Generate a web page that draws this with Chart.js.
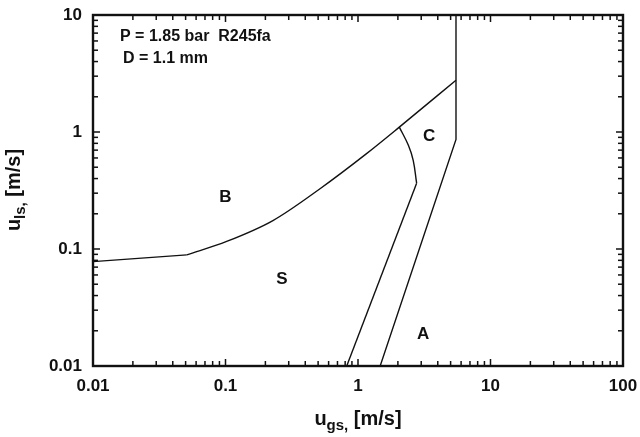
<!DOCTYPE html>
<html>
<head>
<meta charset="utf-8">
<script src="https://cdn.jsdelivr.net/npm/chart.js@4/dist/chart.umd.min.js"></script>
<style>
  html, body { margin: 0; padding: 0; background: #fff; }
  #wrap { width: 640px; height: 437px; }
</style>
</head>
<body>
<div id="wrap"><canvas id="chart" width="640" height="437"></canvas></div>
<script>
// Flow pattern map, R245fa, D = 1.1 mm (log-log)

const FONT = '"Liberation Sans", Arial, sans-serif';

const xTicks = [0.01, 0.1, 1, 10, 100];
const yTicks = [0.01, 0.1, 1, 10];

// B / S boundary: flat start, then curved part up to the C corner
const flatX = [0.01, 0.051];
const flatY = [0.078, 0.089];
const bsX = [0.051, 0.102, 0.228, 0.52, 1.16, 2.05, 5.49];
const bsY = [0.089, 0.116, 0.175, 0.329, 0.653, 1.10, 2.77];

// vertical line then right boundary of C
const rightX = [5.49, 5.49, 1.47];
const rightY = [10, 0.865, 0.01];

// S / C boundary: straight lower part, curved upper part
const leftX = [0.822, 2.77];
const leftY = [0.01, 0.365];
const curveX = [2.77, 2.61, 2.40, 2.05];
const curveY = [0.365, 0.571, 0.769, 1.10];

// region labels
const regionText = ['B', 'S', 'C', 'A'];
const regionX = [0.1, 0.267, 3.44, 3.1];
const regionY = [0.275, 0.0546, 0.918, 0.0188];

const infoLines = ['P = 1.85 bar  R245fa', 'D = 1.1 mm'];

const toPts = (xs, ys) => xs.map((x, i) => ({ x: x, y: ys[i] }));

function lineSet(xs, ys, extra){
  return Object.assign({
    data: toPts(xs, ys),
    showLine: true,
    borderColor: '#111',
    borderWidth: 1.4,
    pointRadius: 0,
    tension: 0,
    fill: false
  }, extra || {});
}

function minorValues(min, max){
  const out = [];
  const e0 = Math.round(Math.log10(min)), e1 = Math.round(Math.log10(max));
  for (let e = e0; e < e1; e++){
    for (let m = 2; m <= 9; m++) out.push(m * Math.pow(10, e));
  }
  return out;
}

const decorPlugin = {
  id: 'decor',
  afterDraw(chart){
    const ctx = chart.ctx;
    const a = chart.chartArea;
    const xs = chart.scales.x, ys = chart.scales.y;
    ctx.save();

    // inward ticks on all four sides
    ctx.strokeStyle = '#111';
    ctx.lineWidth = 1.5;
    const xVals = minorValues(0.01, 100).map(v => [v, 5]).concat(xTicks.map(v => [v, 7]));
    for (const [v, len] of xVals){
      const p = xs.getPixelForValue(v);
      ctx.beginPath();
      ctx.moveTo(p, a.bottom);
      ctx.lineTo(p, a.bottom - len);
      ctx.stroke();
      ctx.beginPath();
      ctx.moveTo(p, a.top);
      ctx.lineTo(p, a.top + len);
      ctx.stroke();
    }
    const yVals = minorValues(0.01, 10).map(v => [v, 5]).concat(yTicks.map(v => [v, 7]));
    for (const [v, len] of yVals){
      const p = ys.getPixelForValue(v);
      ctx.beginPath();
      ctx.moveTo(a.left, p);
      ctx.lineTo(a.left + len, p);
      ctx.stroke();
      ctx.beginPath();
      ctx.moveTo(a.right, p);
      ctx.lineTo(a.right - len, p);
      ctx.stroke();
    }

    // frame
    ctx.lineWidth = 2.4;
    ctx.strokeRect(a.left, a.top, a.right - a.left, a.bottom - a.top);

    // region labels
    ctx.fillStyle = '#111';
    ctx.font = 'bold 17px ' + FONT;
    ctx.textAlign = 'center';
    ctx.textBaseline = 'middle';
    regionText.forEach((t, i) => {
      ctx.fillText(t, xs.getPixelForValue(regionX[i]), ys.getPixelForValue(regionY[i]));
    });

    // conditions
    ctx.font = 'bold 16px ' + FONT;
    ctx.textAlign = 'left';
    ctx.fillText(infoLines[0], a.left + 27, a.top + 22);
    ctx.fillText(infoLines[1], a.left + 30, a.top + 44);

    // axis titles with subscripts
    const drawTitle = (cx, cy, main, sub, rest) => {
      ctx.font = 'bold 20px ' + FONT;
      const w1 = ctx.measureText(main).width;
      const w3 = ctx.measureText(rest).width;
      ctx.font = 'bold 15px ' + FONT;
      const w2 = ctx.measureText(sub).width;
      const x0 = cx - (w1 + w2 + w3) / 2;
      ctx.textAlign = 'left';
      ctx.textBaseline = 'alphabetic';
      ctx.font = 'bold 20px ' + FONT;
      ctx.fillText(main, x0, cy);
      ctx.font = 'bold 15px ' + FONT;
      ctx.fillText(sub, x0 + w1, cy + 5);
      ctx.font = 'bold 20px ' + FONT;
      ctx.fillText(rest, x0 + w1 + w2, cy);
    };
    drawTitle((a.left + a.right) / 2, 425, 'u', 'gs,', ' [m/s]');

    ctx.save();
    ctx.translate(20, 190);
    ctx.rotate(-Math.PI / 2);
    drawTitle(0, 0, 'u', 'ls,', ' [m/s]');
    ctx.restore();

    ctx.restore();
  }
};

const tickFont = { family: FONT, size: 17, weight: 'bold' };

new Chart(document.getElementById('chart').getContext('2d'), {
  type: 'scatter',
  data: {
    datasets: [
      lineSet(flatX, flatY),
      lineSet(bsX, bsY, { cubicInterpolationMode: 'monotone' }),
      lineSet(rightX, rightY),
      lineSet(leftX, leftY),
      lineSet(curveX, curveY, { tension: 0.4 })
    ]
  },
  options: {
    responsive: false,
    animation: false,
    layout: { padding: { top: 15, right: 17, left: 0, bottom: 0 } },
    plugins: { legend: { display: false }, tooltip: { enabled: false } },
    scales: {
      x: {
        type: 'logarithmic',
        min: 0.01,
        max: 100,
        afterBuildTicks: s => { s.ticks = xTicks.map(v => ({ value: v })); },
        afterFit: s => { s.height = 71; s.paddingLeft = 0; s.paddingRight = 0; },
        grid: { display: false, drawTicks: false },
        border: { display: false },
        ticks: {
          color: '#111',
          font: tickFont,
          padding: 10,
          autoSkip: false,
          maxRotation: 0,
          callback: v => String(v)
        }
      },
      y: {
        type: 'logarithmic',
        min: 0.01,
        max: 10,
        afterBuildTicks: s => { s.ticks = yTicks.map(v => ({ value: v })); },
        afterFit: s => { s.width = 93; s.paddingTop = 0; s.paddingBottom = 0; },
        grid: { display: false, drawTicks: false },
        border: { display: false },
        ticks: {
          color: '#111',
          font: tickFont,
          padding: 11,
          autoSkip: false,
          callback: v => String(v)
        }
      }
    }
  },
  plugins: [decorPlugin]
});
</script>
</body>
</html>
